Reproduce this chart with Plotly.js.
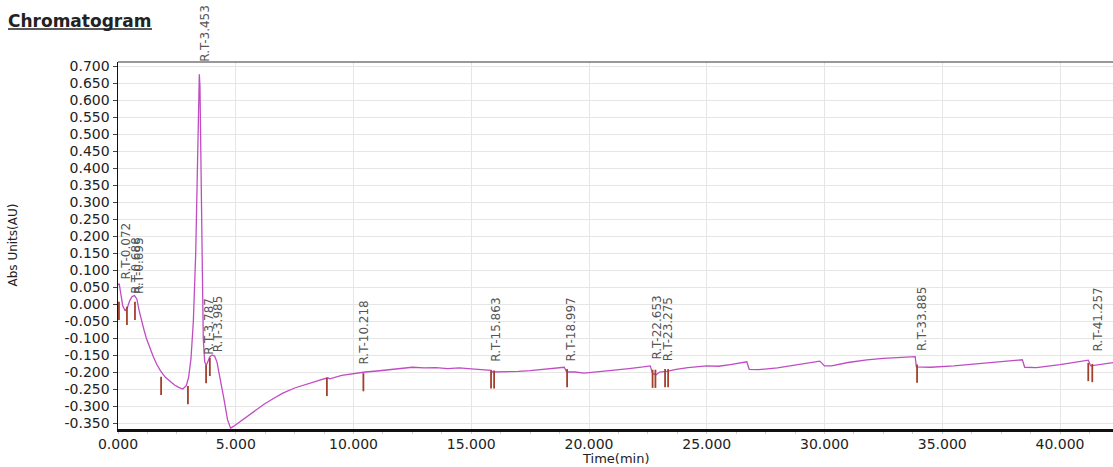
<!DOCTYPE html>
<html>
<head>
<meta charset="utf-8">
<script src="https://cdn.plot.ly/plotly-3.0.1.min.js"></script>
<style>html,body{margin:0;padding:0;background:#fff;}#chart{width:1113px;height:467px;}</style>
</head>
<body>
<div id="chart"></div>
<script>
// Chromatogram trace (time in min, absorbance in AU)
var timeMin = [0.00,0.05,0.12,0.20,0.30,0.40,0.50,0.60,0.70,0.80,0.90,1.00,1.10,1.20,1.35,1.50,1.65,1.80,2.00,2.20,2.40,2.60,2.75,2.90,3.00,3.10,3.20,3.30,3.38,3.43,3.453,3.48,3.52,3.57,3.62,3.68,3.75,3.80,3.90,4.00,4.10,4.20,4.35,4.50,4.65,4.78,4.90,5.10,5.40,5.80,6.20,6.60,7.00,7.50,8.00,8.50,8.90,9.00,9.50,10.00,10.50,11.00,11.50,12.00,12.50,13.00,13.50,14.00,14.50,15.00,15.50,15.85,15.90,16.50,17.00,17.50,18.00,18.50,18.95,19.05,19.40,19.80,20.30,21.00,21.70,22.30,22.60,22.70,22.85,23.00,23.30,23.70,24.20,25.00,25.50,26.00,26.70,26.80,27.20,28.00,29.00,29.80,30.00,30.30,31.00,31.80,32.50,33.30,33.85,33.90,34.50,35.50,36.50,37.50,38.40,38.50,39.00,40.00,41.20,41.30,41.80,42.30];
var absAU = [0.056,0.060,0.030,-0.005,-0.020,-0.010,0.010,0.022,0.025,0.015,-0.020,-0.050,-0.075,-0.100,-0.130,-0.155,-0.178,-0.196,-0.215,-0.228,-0.238,-0.246,-0.250,-0.240,-0.215,-0.160,-0.050,0.150,0.450,0.660,0.676,0.640,0.400,0.100,-0.100,-0.170,-0.180,-0.172,-0.155,-0.150,-0.153,-0.170,-0.220,-0.280,-0.340,-0.365,-0.360,-0.350,-0.335,-0.315,-0.295,-0.278,-0.262,-0.247,-0.235,-0.225,-0.217,-0.220,-0.210,-0.204,-0.200,-0.197,-0.193,-0.188,-0.186,-0.188,-0.187,-0.190,-0.188,-0.191,-0.193,-0.195,-0.200,-0.200,-0.198,-0.196,-0.193,-0.190,-0.186,-0.200,-0.200,-0.203,-0.200,-0.195,-0.190,-0.185,-0.182,-0.205,-0.208,-0.200,-0.198,-0.192,-0.187,-0.182,-0.183,-0.178,-0.170,-0.192,-0.193,-0.188,-0.178,-0.168,-0.182,-0.182,-0.172,-0.164,-0.160,-0.157,-0.155,-0.185,-0.186,-0.182,-0.176,-0.170,-0.164,-0.186,-0.187,-0.178,-0.165,-0.182,-0.177,-0.172];

// Peak start/end tick marks
var markTime = [0.04,0.38,0.72,1.83,2.97,3.74,3.90,8.87,10.42,15.84,15.97,19.07,22.70,22.82,23.23,23.36,33.93,41.20,41.37];
var markAU   = [-0.020,-0.035,-0.020,-0.241,-0.268,-0.206,-0.185,-0.244,-0.230,-0.222,-0.222,-0.218,-0.220,-0.220,-0.218,-0.218,-0.205,-0.200,-0.203];

// Retention time labels
var rtText = ['R.T-0.072','R.T-0.688','R.T-0.695','R.T-3.453','R.T-3.787','R.T-3.985','R.T-10.218','R.T-15.863','R.T-18.997','R.T-22.653','R.T-23.275','R.T-33.885','R.T-41.257'];
var rtTime = [0.072,0.688,0.695,3.453,3.787,3.985,10.218,15.863,18.997,22.653,23.275,33.885,41.257];
var rtAU   = [0.070,0.026,0.026,0.709,-0.153,-0.144,-0.182,-0.174,-0.171,-0.165,-0.171,-0.141,-0.144];

// Axis ticks
var yTickVals = [0.700,0.650,0.600,0.550,0.500,0.450,0.400,0.350,0.300,0.250,0.200,0.150,0.100,0.050,0.000,-0.050,-0.100,-0.150,-0.200,-0.250,-0.300,-0.350];
var yTickText = ['0.700','0.650','0.600','0.550','0.500','0.450','0.400','0.350','0.300','0.250','0.200','0.150','0.100','0.050','0.000','-0.050','-0.100','-0.150','-0.200','-0.250','-0.300','-0.350'];
var xTickVals = [0,5,10,15,20,25,30,35,40];
var xTickText = ['0.000','5.000','10.000','15.000','20.000','25.000','30.000','35.000','40.000'];

var xShifts = [6,1,4,6,1,7,5,5,6,6,2,6,8];

var traces = [
  {x: timeMin, y: absAU, type: 'scatter', mode: 'lines',
   line: {color: '#c04cc4', width: 1.3}, hoverinfo: 'skip'},
  {x: markTime, y: markAU, type: 'scatter', mode: 'markers',
   marker: {symbol: 'line-ns-open', size: 13, color: '#a3402c', line: {color: '#a3402c', width: 1.8}}, hoverinfo: 'skip'}
];

var font = 'DejaVu Sans, sans-serif';
var annotations = rtText.map(function (t, i) {
  return {x: rtTime[i], y: rtAU[i], xref: 'x', yref: 'y', text: t, showarrow: false,
          textangle: -90, xanchor: 'center', yanchor: 'bottom', xshift: xShifts[i], borderpad: 0,
          font: {family: font, size: 12, color: '#555'}};
});
// axis titles placed as annotations for exact positioning
annotations.push({xref: 'paper', yref: 'paper', x: 0.5, y: (429 - 458) / 367, text: 'Time(min)', showarrow: false,
                  xanchor: 'center', yanchor: 'middle', borderpad: 0, font: {family: font, size: 13, color: '#222'}});
annotations.push({xref: 'paper', yref: 'paper', x: (12 - 118) / 995, y: 0.5, text: 'Abs Units(AU)', showarrow: false,
                  textangle: -90, xanchor: 'center', yanchor: 'middle', font: {family: font, size: 12, color: '#222'}});

var underlineY = (429 - 29) / 367;

var layout = {
  width: 1113, height: 467,
  margin: {l: 118, r: 0, t: 62, b: 38},
  paper_bgcolor: '#fff', plot_bgcolor: '#fff',
  showlegend: false,
  title: {text: '<b>Chromatogram</b>', x: 8/1113, xanchor: 'left', xref: 'container',
          y: 1 - 21/467, yref: 'container', yanchor: 'middle',
          font: {family: font, size: 17, color: '#222'}},
  xaxis: {range: [0, 42.25], tickvals: xTickVals, ticktext: xTickText,
          showgrid: true, gridcolor: '#e6e6e6', gridwidth: 1, zeroline: false,
          showline: true, linecolor: '#111', linewidth: 3,
          ticks: '', ticklabelstandoff: 0,
          minor: {dtick: 1.25, ticks: 'outside', ticklen: 2, tickcolor: '#ccc', showgrid: false},
          tickfont: {family: font, size: 14, color: '#222'},
          title: {text: ''},
          automargin: false},
  yaxis: {range: [-0.3676, 0.7118], tickvals: yTickVals, ticktext: yTickText,
          showgrid: true, gridcolor: '#e6e6e6', gridwidth: 1, zeroline: false,
          showline: true, linecolor: '#111', linewidth: 1.5,
          ticks: 'outside', ticklen: 4, tickcolor: '#444',
          tickfont: {family: font, size: 14, color: '#222'},
          title: {text: ''},
          automargin: false},
  shapes: [
    {type: 'line', xref: 'paper', yref: 'paper', x0: 0, x1: 1, y0: 1, y1: 1, line: {color: '#333', width: 1}},
    {type: 'line', xref: 'paper', yref: 'paper', x0: -110/995, x1: 34/995, y0: underlineY, y1: underlineY, line: {color: '#222', width: 1.5}}
  ],
  annotations: annotations
};

Plotly.newPlot('chart', traces, layout, {staticPlot: true, displayModeBar: false});
</script>
</body>
</html>
